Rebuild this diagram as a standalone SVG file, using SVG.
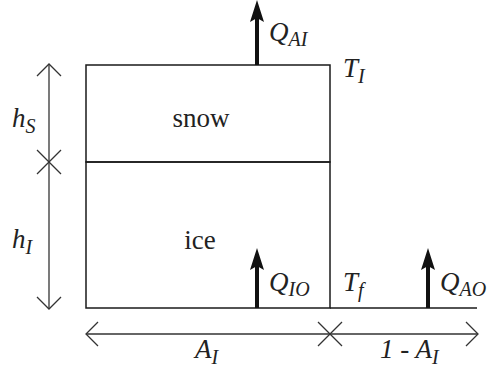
<svg xmlns="http://www.w3.org/2000/svg" width="491" height="375" viewBox="0 0 491 375">
<g id="snow">
<rect x="86" y="65" width="244" height="97" fill="none" stroke="#1a1a1a" stroke-width="1.5"/>
<text x="201" y="127" text-anchor="middle" font-family="Liberation Serif" font-size="27" fill="#222">snow</text>
</g>
<g id="ice">
<rect x="86" y="162" width="244" height="146" fill="none" stroke="#1a1a1a" stroke-width="1.5"/>
<text x="200" y="249" text-anchor="middle" font-family="Liberation Serif" font-size="27" fill="#222">ice</text>
</g>
<g id="ocean">
<line x1="330" y1="308" x2="477" y2="308" stroke="#1a1a1a" stroke-width="1.5"/>
</g>
<g id="connectors" fill="none" stroke="#333" stroke-width="1.3">
<line x1="49" y1="64" x2="49" y2="309"/>
<polyline points="37,76 49,64 61,76"/>
<polyline points="37,297 49,309 61,297"/>
<line x1="37" y1="150" x2="61" y2="174"/>
<line x1="61" y1="150" x2="37" y2="174"/>
<line x1="86" y1="334" x2="478" y2="334"/>
<polyline points="98,322 86,334 98,346"/>
<polyline points="466,322 478,334 466,346"/>
<line x1="318" y1="322" x2="342" y2="346"/>
<line x1="342" y1="322" x2="318" y2="346"/>
<g stroke="#111" stroke-width="4">
<line x1="257" y1="65" x2="257" y2="14"/>
<line x1="257" y1="308" x2="257" y2="262"/>
<line x1="428" y1="308" x2="428" y2="262"/>
</g>
<g fill="#111" stroke="none">
<path d="M257,0 L264,22 L257,18 L250,22 Z"/>
<path d="M257,248 L264,270 L257,266 L250,270 Z"/>
<path d="M428,248 L435,270 L428,266 L421,270 Z"/>
</g>
</g>
<g id="labels" font-family="Liberation Serif" font-style="italic" font-size="27" fill="#222">
<text x="269" y="41">Q<tspan font-size="20" dy="5">AI</tspan></text>
<text x="343" y="77">T<tspan font-size="20" dy="6">I</tspan></text>
<text x="269" y="291">Q<tspan font-size="20" dy="5">IO</tspan></text>
<text x="343" y="291">T<tspan font-size="20" dy="6">f</tspan></text>
<text x="440" y="291">Q<tspan font-size="20" dy="5">AO</tspan></text>
<text x="12" y="127">h<tspan font-size="20" dy="6">S</tspan></text>
<text x="12" y="248">h<tspan font-size="20" dy="6">I</tspan></text>
<text x="195" y="358">A<tspan font-size="20" dy="6">I</tspan></text>
<text x="380" y="358">1 - A<tspan font-size="20" dy="6">I</tspan></text>
</g>
</svg>
